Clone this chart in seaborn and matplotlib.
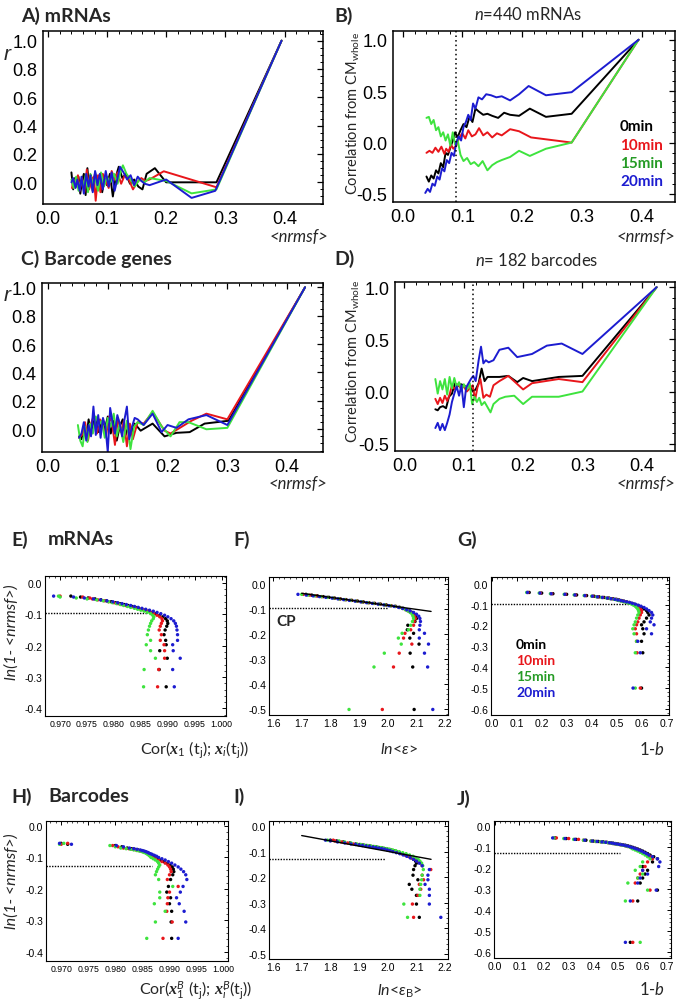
import matplotlib
matplotlib.use('Agg')
import matplotlib.pyplot as plt
import matplotlib.font_manager as fm
from matplotlib.ticker import MultipleLocator, AutoMinorLocator, FormatStrFormatter
import pandas as pd
import seaborn as sns

# ---------------- data ----------------
times = ['0min', '10min', '15min', '20min']
colors = {'0min': '#000000', '10min': '#e8161b', '15min': '#3ee33e', '20min': '#1c1cd0'}
label_colors = {'0min': '#000000', '10min': '#e8161b', '15min': '#259b25', '20min': '#1c1cd0'}

# A) mRNAs, r vs <nrmsf>
a_x_0 = [0.040, 0.043, 0.046, 0.049, 0.052, 0.055, 0.058, 0.061, 0.064, 0.067, 0.070, 0.073, 0.076, 0.080, 0.084, 0.088, 0.092, 0.096, 0.100, 0.105, 0.110, 0.115, 0.120, 0.126, 0.132, 0.139, 0.146, 0.153, 0.160, 0.167, 0.181, 0.200, 0.285, 0.395]
a_y_0 = [0.07, -0.05, 0.03, -0.03, 0.04, -0.08, 0.01, 0.06, -0.09, 0.10, -0.04, 0.05, -0.06, 0.07, -0.02, 0.05, -0.07, 0.03, -0.02, 0.06, -0.10, 0.04, 0.11, 0.03, 0.06, -0.01, 0.02, -0.03, -0.05, 0.06, 0.10, 0.00, 0.00, 1.00]
a_x_10 = [0.041, 0.044, 0.047, 0.051, 0.054, 0.058, 0.062, 0.066, 0.070, 0.074, 0.078, 0.081, 0.085, 0.089, 0.093, 0.098, 0.103, 0.108, 0.113, 0.118, 0.124, 0.130, 0.137, 0.144, 0.151, 0.158, 0.165, 0.172, 0.196, 0.285, 0.395]
a_y_10 = [-0.04, 0.02, -0.03, 0.05, -0.06, 0.03, -0.07, 0.09, -0.05, 0.02, 0.04, -0.13, 0.05, -0.07, 0.06, 0.01, -0.04, 0.08, 0.02, 0.07, -0.01, 0.05, 0.02, -0.05, 0.00, 0.03, 0.01, 0.02, 0.078, -0.035, 1.00]
a_x_15 = [0.040, 0.044, 0.048, 0.052, 0.056, 0.060, 0.064, 0.068, 0.072, 0.076, 0.080, 0.085, 0.090, 0.095, 0.100, 0.106, 0.112, 0.118, 0.124, 0.127, 0.133, 0.140, 0.147, 0.155, 0.163, 0.172, 0.200, 0.243, 0.285, 0.395]
a_y_15 = [0.02, -0.04, 0.04, -0.06, 0.01, -0.03, 0.05, -0.07, 0.06, -0.02, 0.03, -0.06, 0.07, -0.03, 0.04, 0.00, 0.06, -0.01, 0.09, 0.12, 0.06, 0.02, -0.03, 0.02, 0.00, 0.03, 0.01, -0.078, -0.05, 1.00]
a_x_20 = [0.040, 0.043, 0.047, 0.050, 0.054, 0.057, 0.061, 0.065, 0.069, 0.072, 0.076, 0.080, 0.084, 0.088, 0.093, 0.098, 0.103, 0.108, 0.113, 0.118, 0.122, 0.128, 0.134, 0.140, 0.146, 0.152, 0.158, 0.164, 0.172, 0.200, 0.243, 0.283, 0.395]
a_y_20 = [0.00, 0.03, -0.04, 0.02, -0.06, 0.04, -0.08, 0.06, -0.03, 0.05, -0.07, 0.08, -0.02, 0.06, -0.05, 0.08, -0.03, 0.07, -0.06, 0.03, 0.11, 0.07, 0.02, 0.05, -0.02, 0.04, 0.01, -0.01, -0.02, 0.02, -0.11, -0.06, 1.00]

# B) mRNAs, correlation from CM_whole
b_x_0 = [0.040, 0.044, 0.048, 0.052, 0.056, 0.060, 0.064, 0.068, 0.072, 0.076, 0.080, 0.084, 0.088, 0.092, 0.097, 0.102, 0.107, 0.112, 0.117, 0.122, 0.128, 0.135, 0.142, 0.150, 0.160, 0.170, 0.180, 0.195, 0.213, 0.240, 0.283, 0.395]
b_y_0 = [-0.33, -0.38, -0.32, -0.35, -0.27, -0.30, -0.20, -0.24, -0.10, -0.12, -0.05, 0.02, 0.10, 0.05, 0.12, 0.18, 0.15, 0.25, 0.20, 0.33, 0.30, 0.27, 0.28, 0.26, 0.24, 0.29, 0.27, 0.26, 0.33, 0.25, 0.28, 1.00]
b_x_10 = [0.040, 0.045, 0.050, 0.055, 0.060, 0.065, 0.070, 0.073, 0.077, 0.081, 0.085, 0.090, 0.095, 0.100, 0.105, 0.110, 0.116, 0.122, 0.128, 0.135, 0.142, 0.150, 0.158, 0.166, 0.180, 0.195, 0.215, 0.283, 0.395]
b_y_10 = [-0.10, -0.08, -0.10, -0.05, -0.09, -0.04, -0.11, -0.06, -0.09, -0.02, -0.06, -0.03, 0.05, 0.09, 0.04, 0.12, 0.06, 0.08, 0.14, 0.07, 0.10, 0.05, 0.09, 0.07, 0.13, 0.11, 0.05, 0.00, 1.00]
b_x_15 = [0.040, 0.044, 0.048, 0.052, 0.056, 0.060, 0.064, 0.068, 0.072, 0.076, 0.080, 0.084, 0.088, 0.092, 0.097, 0.102, 0.108, 0.114, 0.120, 0.127, 0.134, 0.142, 0.150, 0.158, 0.166, 0.180, 0.195, 0.213, 0.240, 0.283, 0.395]
b_y_15 = [0.24, 0.25, 0.18, 0.22, 0.12, 0.15, 0.06, 0.10, 0.02, 0.08, -0.03, 0.10, -0.02, 0.03, -0.12, -0.18, -0.15, -0.21, -0.19, -0.23, -0.18, -0.27, -0.22, -0.19, -0.17, -0.14, -0.08, -0.13, -0.06, 0.00, 1.00]
b_x_20 = [0.038, 0.042, 0.046, 0.050, 0.054, 0.058, 0.062, 0.066, 0.070, 0.074, 0.078, 0.082, 0.086, 0.090, 0.094, 0.098, 0.102, 0.106, 0.110, 0.114, 0.118, 0.122, 0.127, 0.133, 0.140, 0.148, 0.157, 0.166, 0.180, 0.195, 0.211, 0.240, 0.283, 0.395]
b_y_20 = [-0.49, -0.45, -0.48, -0.40, -0.42, -0.33, -0.36, -0.25, -0.28, -0.17, -0.20, -0.10, -0.13, 0.00, 0.06, 0.02, 0.15, 0.20, 0.27, 0.22, 0.38, 0.33, 0.44, 0.42, 0.47, 0.46, 0.44, 0.45, 0.41, 0.47, 0.55, 0.46, 0.49, 1.00]

# C) Barcode genes, r vs <nrmsf>
c_x_0 = [0.052, 0.056, 0.060, 0.064, 0.068, 0.072, 0.076, 0.080, 0.085, 0.090, 0.095, 0.100, 0.105, 0.110, 0.115, 0.120, 0.125, 0.130, 0.135, 0.140, 0.145, 0.155, 0.175, 0.195, 0.215, 0.237, 0.262, 0.302, 0.430]
c_y_0 = [-0.05, -0.07, 0.02, -0.06, 0.07, -0.04, 0.05, 0.08, -0.02, 0.06, 0.00, 0.09, -0.03, 0.06, -0.08, 0.02, 0.07, -0.04, 0.03, -0.02, 0.04, -0.01, 0.04, -0.05, -0.025, -0.02, 0.04, 0.06, 1.00]
c_x_10 = [0.052, 0.057, 0.062, 0.067, 0.072, 0.077, 0.082, 0.087, 0.092, 0.097, 0.102, 0.107, 0.112, 0.117, 0.122, 0.127, 0.132, 0.137, 0.142, 0.150, 0.160, 0.175, 0.195, 0.205, 0.240, 0.265, 0.300, 0.430]
c_y_10 = [-0.06, -0.04, 0.05, -0.08, 0.04, 0.10, -0.03, 0.07, 0.02, -0.05, 0.09, 0.05, -0.11, 0.08, -0.02, 0.06, -0.12, 0.04, -0.07, 0.05, 0.04, 0.12, -0.01, -0.03, 0.06, 0.11, 0.07, 1.00]
c_x_15 = [0.050, 0.054, 0.058, 0.062, 0.066, 0.070, 0.075, 0.080, 0.085, 0.090, 0.095, 0.100, 0.105, 0.110, 0.115, 0.120, 0.126, 0.132, 0.138, 0.144, 0.150, 0.160, 0.175, 0.190, 0.205, 0.220, 0.235, 0.265, 0.300, 0.430]
c_y_15 = [0.03, -0.08, -0.12, 0.02, -0.09, 0.04, -0.03, 0.09, 0.03, 0.06, -0.06, 0.08, 0.02, 0.11, -0.05, 0.04, -0.09, 0.06, -0.14, 0.02, 0.05, 0.03, 0.13, 0.02, -0.05, 0.05, 0.05, 0.00, 0.01, 1.00]
c_x_20 = [0.052, 0.056, 0.060, 0.064, 0.068, 0.072, 0.076, 0.080, 0.084, 0.088, 0.092, 0.096, 0.100, 0.104, 0.108, 0.112, 0.116, 0.120, 0.124, 0.128, 0.132, 0.136, 0.140, 0.145, 0.150, 0.160, 0.175, 0.190, 0.200, 0.215, 0.235, 0.265, 0.300, 0.430]
c_y_20 = [-0.06, -0.03, 0.05, -0.08, 0.03, -0.05, 0.16, -0.04, 0.10, -0.06, 0.08, 0.02, -0.16, 0.15, 0.05, -0.03, 0.10, 0.04, -0.05, 0.07, 0.16, -0.07, 0.01, 0.08, 0.07, 0.03, 0.11, -0.02, 0.03, 0.01, 0.07, 0.10, 0.03, 1.00]

# D) barcodes, correlation from CM_whole
d_x_0 = [0.052, 0.056, 0.060, 0.065, 0.070, 0.075, 0.080, 0.085, 0.090, 0.095, 0.100, 0.105, 0.110, 0.115, 0.120, 0.125, 0.130, 0.135, 0.140, 0.150, 0.160, 0.175, 0.190, 0.200, 0.215, 0.260, 0.300, 0.425]
d_y_0 = [-0.17, -0.18, -0.15, -0.14, -0.16, -0.05, -0.02, 0.08, 0.05, 0.07, 0.06, 0.04, 0.06, 0.00, 0.02, 0.08, 0.22, 0.10, 0.14, 0.14, 0.14, 0.15, 0.09, 0.13, 0.10, 0.14, 0.15, 1.00]
d_x_10 = [0.052, 0.056, 0.060, 0.064, 0.068, 0.072, 0.076, 0.080, 0.085, 0.090, 0.095, 0.100, 0.105, 0.110, 0.115, 0.119, 0.123, 0.128, 0.133, 0.138, 0.144, 0.150, 0.160, 0.175, 0.200, 0.215, 0.260, 0.300, 0.425]
d_y_10 = [-0.07, -0.12, -0.06, -0.11, -0.04, -0.09, -0.03, 0.06, 0.02, 0.07, 0.03, 0.05, 0.00, 0.03, 0.06, -0.08, 0.04, 0.12, -0.06, -0.03, -0.05, 0.06, 0.10, 0.15, 0.02, 0.08, 0.12, 0.09, 1.00]
d_x_15 = [0.052, 0.056, 0.060, 0.064, 0.068, 0.072, 0.076, 0.080, 0.084, 0.088, 0.092, 0.096, 0.100, 0.105, 0.110, 0.114, 0.118, 0.122, 0.126, 0.130, 0.135, 0.140, 0.145, 0.150, 0.160, 0.170, 0.185, 0.200, 0.215, 0.260, 0.300, 0.425]
d_y_15 = [0.12, -0.02, 0.10, 0.02, 0.12, -0.03, 0.14, 0.03, 0.13, 0.04, 0.09, 0.01, 0.07, 0.02, 0.08, -0.12, -0.05, -0.10, -0.06, -0.13, -0.10, -0.15, -0.20, -0.12, -0.07, -0.05, -0.04, -0.12, -0.05, -0.05, 0.00, 1.00]
d_x_20 = [0.052, 0.056, 0.060, 0.064, 0.068, 0.072, 0.076, 0.080, 0.084, 0.088, 0.092, 0.096, 0.100, 0.104, 0.108, 0.112, 0.116, 0.120, 0.125, 0.129, 0.133, 0.137, 0.142, 0.150, 0.160, 0.175, 0.190, 0.215, 0.240, 0.265, 0.300, 0.425]
d_y_20 = [-0.35, -0.30, -0.37, -0.31, -0.37, -0.30, -0.22, -0.10, -0.02, 0.05, -0.04, 0.06, -0.15, 0.04, 0.08, 0.12, 0.15, 0.10, 0.30, 0.43, 0.27, 0.30, 0.28, 0.30, 0.40, 0.42, 0.33, 0.36, 0.44, 0.46, 0.36, 1.00]

# E-G) mRNAs: ln(1-<nrmsf>) levels shared by all time points
mrna_lvl = [-0.042, -0.045, -0.048, -0.051, -0.054, -0.057, -0.060, -0.063, -0.066, -0.069, -0.072, -0.075, -0.078, -0.081, -0.084, -0.087, -0.090, -0.094, -0.098, -0.103, -0.108, -0.114, -0.121, -0.129, -0.138, -0.150, -0.165, -0.183, -0.197, -0.216, -0.240, -0.276, -0.331, -0.500]
e_x_0 = [0.9720, 0.9738, 0.9752, 0.9765, 0.9776, 0.9786, 0.9795, 0.9803, 0.9811, 0.9819, 0.9826, 0.9833, 0.9840, 0.9846, 0.9852, 0.9858, 0.9864, 0.9871, 0.9878, 0.9885, 0.9891, 0.9896, 0.9899, 0.9900, 0.9898, 0.9895, 0.9893, 0.9896, 0.9897, 0.9885, 0.9899, 0.9884, 0.9897, 0.9900]
e_x_10 = [0.9700, 0.9742, 0.9755, 0.9760, 0.9770, 0.9782, 0.9790, 0.9800, 0.9808, 0.9815, 0.9822, 0.9830, 0.9837, 0.9843, 0.9850, 0.9856, 0.9862, 0.9868, 0.9874, 0.9880, 0.9885, 0.9889, 0.9890, 0.9888, 0.9886, 0.9884, 0.9888, 0.9886, 0.9893, 0.9894, 0.9894, 0.9883, 0.9881, 0.9880]
e_x_15 = [0.9697, 0.9700, 0.9730, 0.9750, 0.9768, 0.9780, 0.9790, 0.9797, 0.9805, 0.9812, 0.9818, 0.9825, 0.9831, 0.9838, 0.9844, 0.9850, 0.9856, 0.9862, 0.9868, 0.9872, 0.9874, 0.9873, 0.9870, 0.9868, 0.9866, 0.9864, 0.9862, 0.9868, 0.9860, 0.9868, 0.9877, 0.9856, 0.9855, 0.9855]
e_x_20 = [0.9688, 0.9725, 0.9745, 0.9762, 0.9775, 0.9787, 0.9798, 0.9807, 0.9815, 0.9823, 0.9831, 0.9838, 0.9845, 0.9852, 0.9859, 0.9866, 0.9873, 0.9880, 0.9887, 0.9894, 0.9900, 0.9906, 0.9911, 0.9914, 0.9916, 0.9917, 0.9918, 0.9918, 0.9909, 0.9910, 0.9923, 0.9909, 0.9912, 0.9912]
f_x_0 = [1.715, 1.735, 1.755, 1.775, 1.795, 1.815, 1.835, 1.855, 1.875, 1.895, 1.915, 1.935, 1.955, 1.975, 1.995, 2.012, 2.028, 2.042, 2.055, 2.066, 2.076, 2.085, 2.092, 2.097, 2.100, 2.095, 2.070, 2.068, 2.090, 2.077, 2.109, 2.078, 2.087, 2.092]
f_x_10 = [1.705, 1.728, 1.750, 1.770, 1.790, 1.812, 1.832, 1.852, 1.872, 1.892, 1.912, 1.932, 1.952, 1.972, 1.992, 2.010, 2.026, 2.040, 2.052, 2.062, 2.072, 2.080, 2.088, 2.094, 2.096, 2.092, 2.090, 2.080, 2.060, 2.055, 2.084, 2.040, 2.020, 1.981]
f_x_15 = [1.700, 1.722, 1.745, 1.768, 1.790, 1.810, 1.830, 1.850, 1.870, 1.890, 1.910, 1.930, 1.950, 1.970, 1.990, 2.008, 2.025, 2.040, 2.052, 2.062, 2.070, 2.078, 2.085, 2.088, 2.090, 2.086, 2.080, 2.072, 2.050, 2.037, 2.047, 1.988, 1.952, 1.865]
f_x_20 = [1.687, 1.716, 1.740, 1.762, 1.784, 1.806, 1.826, 1.846, 1.866, 1.886, 1.906, 1.926, 1.946, 1.966, 1.986, 2.004, 2.022, 2.038, 2.052, 2.066, 2.078, 2.090, 2.100, 2.108, 2.112, 2.114, 2.112, 2.110, 2.128, 2.110, 2.142, 2.128, 2.139, 2.157]
g_x_0 = [0.150, 0.200, 0.245, 0.300, 0.340, 0.380, 0.410, 0.430, 0.450, 0.470, 0.485, 0.500, 0.510, 0.520, 0.530, 0.540, 0.550, 0.560, 0.570, 0.580, 0.590, 0.600, 0.610, 0.620, 0.625, 0.630, 0.620, 0.610, 0.600, 0.605, 0.610, 0.600, 0.605, 0.600]
g_x_10 = [0.145, 0.195, 0.240, 0.295, 0.335, 0.375, 0.405, 0.425, 0.445, 0.465, 0.480, 0.495, 0.505, 0.515, 0.525, 0.535, 0.545, 0.555, 0.565, 0.575, 0.585, 0.590, 0.595, 0.600, 0.600, 0.595, 0.590, 0.585, 0.580, 0.575, 0.580, 0.580, 0.582, 0.595]
g_x_15 = [0.140, 0.190, 0.235, 0.290, 0.330, 0.370, 0.400, 0.420, 0.440, 0.460, 0.475, 0.490, 0.500, 0.510, 0.520, 0.530, 0.540, 0.550, 0.560, 0.568, 0.575, 0.580, 0.585, 0.588, 0.590, 0.585, 0.580, 0.575, 0.570, 0.565, 0.570, 0.580, 0.575, 0.575]
g_x_20 = [0.143, 0.193, 0.238, 0.293, 0.333, 0.373, 0.403, 0.423, 0.443, 0.463, 0.478, 0.493, 0.505, 0.517, 0.528, 0.540, 0.552, 0.563, 0.575, 0.587, 0.598, 0.610, 0.620, 0.630, 0.640, 0.645, 0.640, 0.635, 0.650, 0.620, 0.640, 0.585, 0.595, 0.566]

# H-J) barcodes
bc_lvl = [-0.055, -0.058, -0.062, -0.066, -0.070, -0.072, -0.074, -0.076, -0.078, -0.080, -0.082, -0.084, -0.086, -0.088, -0.090, -0.093, -0.096, -0.100, -0.104, -0.108, -0.113, -0.118, -0.124, -0.130, -0.137, -0.145, -0.155, -0.170, -0.192, -0.210, -0.228, -0.247, -0.271, -0.305, -0.357, -0.555]
h_x_0 = [0.9700, 0.9712, 0.9800, 0.9812, 0.9822, 0.9830, 0.9836, 0.9842, 0.9848, 0.9852, 0.9855, 0.9858, 0.9860, 0.9862, 0.9864, 0.9866, 0.9868, 0.9872, 0.9878, 0.9884, 0.9890, 0.9896, 0.9901, 0.9905, 0.9907, 0.9908, 0.9906, 0.9902, 0.9898, 0.9895, 0.9902, 0.9900, 0.9904, 0.9903, 0.9904, 0.9900]
h_x_10 = [0.9712, 0.9700, 0.9795, 0.9805, 0.9815, 0.9825, 0.9832, 0.9838, 0.9843, 0.9848, 0.9852, 0.9856, 0.9858, 0.9860, 0.9862, 0.9864, 0.9866, 0.9869, 0.9874, 0.9880, 0.9886, 0.9892, 0.9897, 0.9900, 0.9902, 0.9903, 0.9900, 0.9896, 0.9916, 0.9900, 0.9897, 0.9896, 0.9895, 0.9905, 0.9888, 0.9890]
h_x_15 = [0.9705, 0.9697, 0.9790, 0.9800, 0.9810, 0.9820, 0.9828, 0.9834, 0.9840, 0.9845, 0.9850, 0.9853, 0.9856, 0.9858, 0.9860, 0.9862, 0.9864, 0.9866, 0.9870, 0.9874, 0.9878, 0.9880, 0.9882, 0.9880, 0.9878, 0.9876, 0.9874, 0.9880, 0.9906, 0.9882, 0.9882, 0.9872, 0.9892, 0.9874, 0.9858, 0.9850]
h_x_20 = [0.9697, 0.9719, 0.9802, 0.9815, 0.9826, 0.9834, 0.9840, 0.9846, 0.9850, 0.9854, 0.9857, 0.9860, 0.9862, 0.9865, 0.9868, 0.9872, 0.9876, 0.9880, 0.9886, 0.9892, 0.9898, 0.9904, 0.9910, 0.9916, 0.9921, 0.9926, 0.9930, 0.9932, 0.9925, 0.9920, 0.9913, 0.9918, 0.9927, 0.9930, 0.9916, 0.9910]
i_x_0 = [1.800, 1.822, 1.845, 1.868, 1.888, 1.902, 1.914, 1.926, 1.938, 1.950, 1.961, 1.971, 1.981, 1.990, 1.999, 2.010, 2.020, 2.030, 2.041, 2.051, 2.062, 2.072, 2.082, 2.090, 2.097, 2.100, 2.095, 2.090, 2.088, 2.105, 2.075, 2.084, 2.100, 2.100, 2.110, 2.120]
i_x_10 = [1.810, 1.815, 1.838, 1.860, 1.880, 1.895, 1.908, 1.920, 1.932, 1.944, 1.955, 1.966, 1.976, 1.986, 1.996, 2.007, 2.018, 2.028, 2.039, 2.050, 2.061, 2.072, 2.083, 2.094, 2.105, 2.115, 2.120, 2.150, 2.120, 2.125, 2.110, 2.115, 2.105, 2.086, 2.090, 2.080]
i_x_15 = [1.790, 1.830, 1.850, 1.872, 1.892, 1.906, 1.918, 1.930, 1.942, 1.954, 1.965, 1.976, 1.986, 1.996, 2.006, 2.017, 2.028, 2.040, 2.052, 2.064, 2.076, 2.088, 2.098, 2.106, 2.112, 2.118, 2.122, 2.124, 2.120, 2.118, 2.115, 2.112, 2.112, 2.056, 2.069, 2.060]
i_x_20 = [1.783, 1.800, 1.825, 1.850, 1.872, 1.888, 1.900, 1.912, 1.924, 1.936, 1.948, 1.958, 1.968, 1.978, 1.988, 1.998, 2.008, 2.018, 2.030, 2.042, 2.054, 2.066, 2.078, 2.090, 2.100, 2.110, 2.120, 2.145, 2.140, 2.140, 2.130, 2.145, 2.145, 2.145, 2.185, 2.190]
j_x_0 = [0.245, 0.290, 0.330, 0.370, 0.400, 0.420, 0.440, 0.455, 0.470, 0.480, 0.490, 0.500, 0.510, 0.520, 0.530, 0.540, 0.550, 0.560, 0.570, 0.580, 0.590, 0.600, 0.610, 0.620, 0.630, 0.645, 0.660, 0.640, 0.600, 0.620, 0.610, 0.600, 0.590, 0.660, 0.580, 0.550]
j_x_10 = [0.250, 0.300, 0.340, 0.360, 0.390, 0.410, 0.430, 0.450, 0.460, 0.470, 0.480, 0.490, 0.500, 0.510, 0.520, 0.530, 0.540, 0.550, 0.560, 0.570, 0.580, 0.590, 0.600, 0.610, 0.620, 0.630, 0.640, 0.620, 0.610, 0.600, 0.590, 0.580, 0.570, 0.630, 0.560, 0.560]
j_x_15 = [0.240, 0.280, 0.320, 0.360, 0.390, 0.410, 0.430, 0.445, 0.460, 0.470, 0.480, 0.490, 0.500, 0.510, 0.520, 0.530, 0.540, 0.550, 0.555, 0.560, 0.570, 0.580, 0.590, 0.600, 0.610, 0.620, 0.630, 0.600, 0.590, 0.570, 0.600, 0.580, 0.540, 0.620, 0.530, 0.590]
j_x_20 = [0.235, 0.285, 0.325, 0.365, 0.395, 0.415, 0.435, 0.450, 0.465, 0.475, 0.485, 0.495, 0.505, 0.515, 0.525, 0.535, 0.545, 0.555, 0.565, 0.575, 0.585, 0.595, 0.605, 0.615, 0.625, 0.640, 0.660, 0.670, 0.665, 0.600, 0.620, 0.590, 0.580, 0.655, 0.550, 0.530]

# ---------------- style ----------------
sns.set_style('white')
names = {f.name for f in fm.fontManager.ttflist}
sans = 'Liberation Sans' if 'Liberation Sans' in names else 'DejaVu Sans'
calib = 'Lato' if 'Lato' in names else sans
plt.rcParams['font.family'] = [sans, 'DejaVu Sans']
plt.rcParams['mathtext.fontset'] = 'custom'
plt.rcParams['mathtext.rm'] = calib
plt.rcParams['mathtext.it'] = calib + ':italic'
plt.rcParams['mathtext.bf'] = 'Liberation Serif:italic:bold'

W, H = 678, 1004
fig = plt.figure(figsize=(W / 100, H / 100), dpi=100)


def px_axes(l, t, r, b):
    return fig.add_axes([l / W, 1 - b / H, (r - l) / W, (b - t) / H])


def ftext(x, y, s, **kw):
    fig.text(x / W, 1 - y / H, s, **kw)


def frame(ax, big, xsize=8):
    for sp in ax.spines.values():
        sp.set_color('black')
        sp.set_linewidth(1.1 if big else 0.8)
    ax.tick_params(which='both', direction='in', top=True, right=True, colors='black')
    if big:
        ax.tick_params(which='major', length=4, width=0.9, labelsize=13, pad=4)
        ax.tick_params(which='minor', length=2, width=0.7)
    else:
        ax.tick_params(which='major', length=3, width=0.7, labelsize=7.5, pad=2)
        ax.tick_params(which='minor', length=1.5, width=0.5)
        ax.tick_params(axis='x', labelsize=xsize)
    ax.set_xlabel('')
    ax.set_ylabel('')


def long_lines(series):
    rows = []
    for t, (xs, ys) in zip(times, series):
        rows.append(pd.DataFrame({'x': xs, 'y': ys, 'time': t}))
    return pd.concat(rows, ignore_index=True)


def long_points(lvl, series):
    rows = []
    for t, xs in zip(times, series):
        rows.append(pd.DataFrame({'x': xs, 'y': lvl, 'time': t}))
    return pd.concat(rows, ignore_index=True)


def line_panel(box, series, xlim, ylim, ymajor, yminor):
    ax = px_axes(*box)
    sns.lineplot(data=long_lines(series), x='x', y='y', hue='time', palette=colors,
                 estimator=None, sort=False, lw=1.4, legend=False, ax=ax)
    ax.set_xlim(*xlim)
    ax.set_ylim(*ylim)
    ax.xaxis.set_major_locator(MultipleLocator(0.1))
    ax.xaxis.set_minor_locator(MultipleLocator(0.02))
    ax.yaxis.set_major_locator(MultipleLocator(ymajor))
    ax.yaxis.set_minor_locator(MultipleLocator(yminor))
    ax.xaxis.set_major_formatter(FormatStrFormatter('%.1f'))
    ax.yaxis.set_major_formatter(FormatStrFormatter('%.1f'))
    frame(ax, True)
    return ax


def point_panel(box, lvl, series, xlim, ylim, xmajor, xfmt, xsize=7.5):
    ax = px_axes(*box)
    sns.scatterplot(data=long_points(lvl, series), x='x', y='y', hue='time', palette=colors,
                    s=6, linewidth=0, legend=False, ax=ax, zorder=3)
    ax.set_xlim(*xlim)
    ax.set_ylim(*ylim)
    ax.xaxis.set_major_locator(MultipleLocator(xmajor))
    ax.xaxis.set_minor_locator(AutoMinorLocator(5))
    ax.yaxis.set_major_locator(MultipleLocator(0.1))
    ax.yaxis.set_minor_locator(AutoMinorLocator(5))
    ax.xaxis.set_major_formatter(FormatStrFormatter(xfmt))
    ax.yaxis.set_major_formatter(FormatStrFormatter('%.1f'))
    frame(ax, False, xsize)
    return ax


# ---------------- top panels ----------------
axA = line_panel((43, 32, 323, 205), [(a_x_0, a_y_0), (a_x_10, a_y_10), (a_x_15, a_y_15), (a_x_20, a_y_20)],
                 (-0.008, 0.465), (-0.153, 1.068), 0.2, 0.05)
axB = line_panel((393, 32, 675, 203), [(b_x_0, b_y_0), (b_x_10, b_y_10), (b_x_15, b_y_15), (b_x_20, b_y_20)],
                 (-0.016, 0.456), (-0.578, 1.085), 0.5, 0.1)
axB.axvline(0.089, color='black', ls=(0, (1, 2)), lw=1.1)
axC = line_panel((42, 284, 323, 453), [(c_x_0, c_y_0), (c_x_10, c_y_10), (c_x_15, c_y_15), (c_x_20, c_y_20)],
                 (-0.01, 0.46), (-0.16, 1.03), 0.2, 0.05)
axD = line_panel((395, 283, 675, 452), [(d_x_0, d_y_0), (d_x_10, d_y_10), (d_x_15, d_y_15), (d_x_20, d_y_20)],
                 (-0.016, 0.456), (-0.57, 1.05), 0.5, 0.1)
axD.axvline(0.115, color='black', ls=(0, (1, 2)), lw=1.1)

ftext(21, 16, 'A) mRNAs', fontsize=14, fontweight='bold', family=calib, va='center')
ftext(334, 16, 'B)', fontsize=14, fontweight='bold', family=calib, va='center')
ftext(528, 15, '$n$=440 mRNAs', fontsize=12, family=calib, va='center', ha='center')
ftext(21, 259, 'C) Barcode genes', fontsize=14, fontweight='bold', family=calib, va='center')
ftext(334, 259, 'D)', fontsize=14, fontweight='bold', family=calib, va='center')
ftext(537, 260, '$n$= 182 barcodes', fontsize=12, family=calib, va='center', ha='center')

ftext(7, 55, 'r', fontsize=15, style='italic', va='center', ha='center')
ftext(7, 296, 'r', fontsize=15, style='italic', va='center', ha='center')
for yy in (113, 361):
    ftext(353, yy, r'Correlation from CM$_{\mathrm{whole}}$', fontsize=10.5, family=calib,
          rotation=90, va='center', ha='center')
for xx, yy in ((328, 237), (675, 237), (327, 484), (675, 484)):
    ftext(xx, yy, '<nrmsf>', fontsize=12, family=calib, style='italic', va='center', ha='right')

for k, t in enumerate(times):
    ftext(620, 127 + 18.5 * k, t, fontsize=11, fontweight='bold', family=calib,
          color=label_colors[t], va='center')

# ---------------- scatter panels ----------------
axE = point_panel((45, 577, 226, 717), mrna_lvl, [e_x_0, e_x_10, e_x_15, e_x_20],
                  (0.9672, 1.0008), (-0.424, 0.022), 0.005, '%.3f', xsize=6.3)
axE.hlines(-0.097, 0.9672, 0.9862, color='black', ls=(0, (1, 1)), lw=1.0, zorder=2)
axF = point_panel((269, 578, 448, 716), mrna_lvl, [f_x_0, f_x_10, f_x_15, f_x_20],
                  (1.586, 2.21), (-0.522, 0.027), 0.1, '%.1f')
axF.hlines(-0.095, 1.586, 2.0, color='black', ls=(0, (1, 1)), lw=1.0, zorder=2)
axF.plot([1.70, 2.151], [-0.038, -0.110], color='black', lw=1.0, zorder=4)
axG = point_panel((491, 578, 669, 716), mrna_lvl, [g_x_0, g_x_10, g_x_15, g_x_20],
                  (-0.003, 0.71), (-0.629, 0.032), 0.1, '%.1f')
axG.hlines(-0.095, -0.003, 0.55, color='black', ls=(0, (1, 1)), lw=1.0, zorder=2)

axH = point_panel((46, 822, 228, 962), bc_lvl, [h_x_0, h_x_10, h_x_15, h_x_20],
                  (0.9672, 1.0008), (-0.429, 0.016), 0.005, '%.3f', xsize=6.3)
axH.hlines(-0.126, 0.9672, 0.9868, color='black', ls=(0, (1, 1)), lw=1.0, zorder=2)
axI = point_panel((269, 822, 448, 960), bc_lvl, [i_x_0, i_x_10, i_x_15, i_x_20],
                  (1.586, 2.21), (-0.52, 0.02), 0.1, '%.1f')
axI.hlines(-0.128, 1.586, 1.99, color='black', ls=(0, (1, 1)), lw=1.0, zorder=2)
axI.plot([1.70, 2.151], [-0.037, -0.130], color='black', lw=1.0, zorder=4)
axJ = point_panel((494, 822, 671, 959), bc_lvl, [j_x_0, j_x_10, j_x_15, j_x_20],
                  (-0.003, 0.715), (-0.63, 0.026), 0.1, '%.1f')
axJ.hlines(-0.129, -0.003, 0.51, color='black', ls=(0, (1, 1)), lw=1.0, zorder=2)

ftext(11, 540, 'E)', fontsize=14, fontweight='bold', family=calib, va='center')
ftext(48, 540, 'mRNAs', fontsize=14, fontweight='bold', family=calib, va='center')
ftext(233, 540, 'F)', fontsize=14, fontweight='bold', family=calib, va='center')
ftext(457, 540, 'G)', fontsize=14, fontweight='bold', family=calib, va='center')
ftext(11, 797, 'H)', fontsize=14, fontweight='bold', family=calib, va='center')
ftext(48, 797, 'Barcodes', fontsize=14, fontweight='bold', family=calib, va='center')
ftext(233, 797, 'I)', fontsize=14, fontweight='bold', family=calib, va='center')
ftext(457, 799, 'J)', fontsize=14, fontweight='bold', family=calib, va='center')

ftext(276, 622, 'CP', fontsize=11, fontweight='bold', family=calib, va='center')

for yy in (632, 881):
    ftext(12, yy, 'ln(1- <nrmsf>)', fontsize=11.5, family=calib, style='italic',
          rotation=90, va='center', ha='center')

ftext(194, 750, r'Cor($\mathbf{x}_{\mathit{1}}$ (t$_{\mathrm{j}}$); $\mathbf{x}_{\mathit{i}}$(t$_{\mathrm{j}}$))',
      fontsize=11.5, family=calib, va='center', ha='center')
ftext(196, 991, r'Cor($\mathbf{x}^{\mathit{B}}_{\mathit{1}}$ (t$_{\mathrm{j}}$); $\mathbf{x}^{\mathit{B}}_{\mathit{i}}$(t$_{\mathrm{j}}$))',
      fontsize=11.5, family=calib, va='center', ha='center')
ftext(399, 750, r'$ln$<$\varepsilon$>', fontsize=11.5, family=calib, va='center', ha='center')
ftext(400, 991, r'$ln$<$\varepsilon_{\mathrm{B}}$>', fontsize=11.5, family=calib, va='center', ha='center')
ftext(652, 750, '1-$b$', fontsize=12, family=calib, va='center', ha='center')
ftext(652, 990, '1-$b$', fontsize=12, family=calib, va='center', ha='center')

for k, t in enumerate(times):
    ftext(516, 645 + 16 * k, t, fontsize=10, fontweight='bold', family=calib,
          color=label_colors[t], va='center')

fig.savefig('out.png', dpi=100)
